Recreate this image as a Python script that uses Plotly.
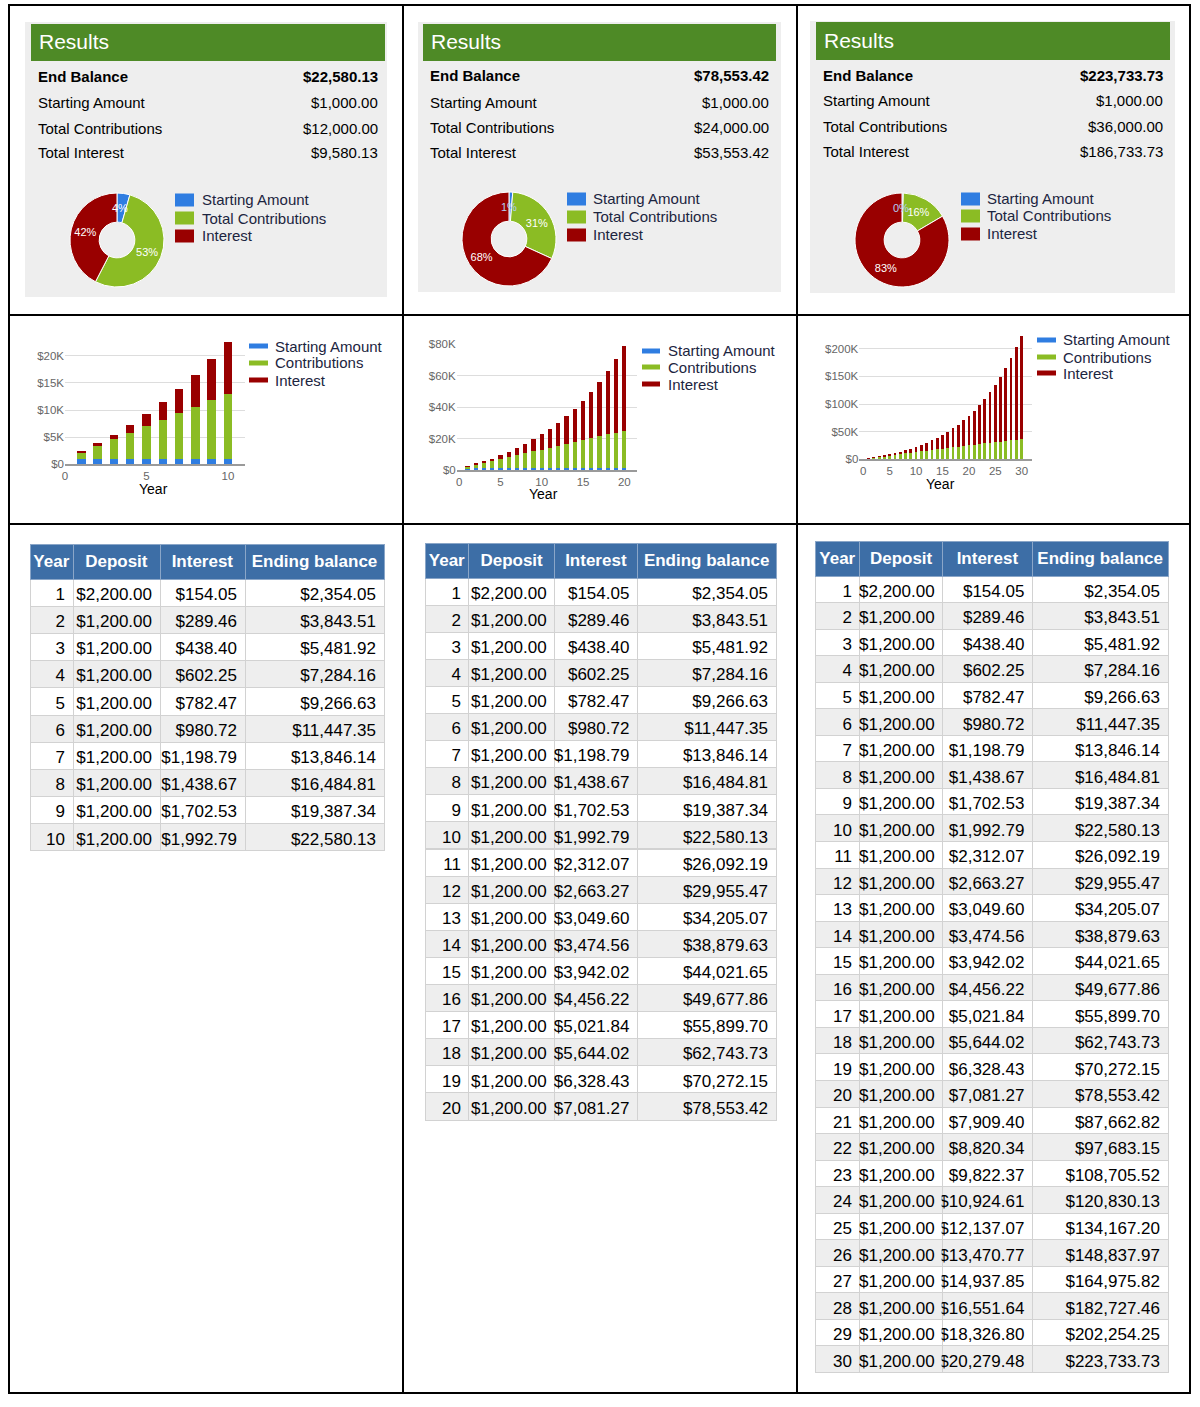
import math
import plotly.graph_objects as go

W, H = 1200, 1407

# ---------------- data ----------------
years = list(range(1, 31))
deposit = [2200.00] + [1200.00] * 29
interest = [154.05, 289.46, 438.40, 602.25, 782.47, 980.72, 1198.79, 1438.67, 1702.53, 1992.79,
            2312.07, 2663.27, 3049.60, 3474.56, 3942.02, 4456.22, 5021.84, 5644.02, 6328.43, 7081.27,
            7909.40, 8820.34, 9822.37, 10924.61, 12137.07, 13470.77, 14937.85, 16551.64, 18326.80, 20279.48]
ending_balance = [2354.05, 3843.51, 5481.92, 7284.16, 9266.63, 11447.35, 13846.14, 16484.81, 19387.34, 22580.13,
                  26092.19, 29955.47, 34205.07, 38879.63, 44021.65, 49677.86, 55899.70, 62743.73, 70272.15, 78553.42,
                  87662.82, 97683.15, 108705.52, 120830.13, 134167.20, 148837.97, 164975.82, 182727.46, 202254.25, 223733.73]

# stacked bar components (cumulative)
bar_starting = [1000] * 30
bar_contrib = [1200, 2400, 3600, 4800, 6000, 7200, 8400, 9600, 10800, 12000,
               13200, 14400, 15600, 16800, 18000, 19200, 20400, 21600, 22800, 24000,
               25200, 26400, 27600, 28800, 30000, 31200, 32400, 33600, 34800, 36000]
bar_interest = [154.05, 443.51, 881.92, 1484.16, 2266.63, 3247.35, 4446.14, 5884.81, 7587.34, 9580.13,
                11892.19, 14555.47, 17605.07, 21079.63, 25021.65, 29477.86, 34499.70, 40143.73, 46472.15, 53553.42,
                61462.82, 70283.15, 80105.52, 91030.13, 103167.20, 116637.97, 131575.82, 148127.46, 166454.25, 186733.73]

# results summaries
horizons = [10, 20, 30]
end_balances = [22580.13, 78553.42, 223733.73]
starting_amounts = [1000.00, 1000.00, 1000.00]
total_contributions = [12000.00, 24000.00, 36000.00]
total_interest = [9580.13, 53553.42, 186733.73]

pie_labels = ["Starting Amount", "Total Contributions", "Interest"]
bar_labels = ["Starting Amount", "Contributions", "Interest"]
result_labels = ["End Balance", "Starting Amount", "Total Contributions", "Total Interest"]
table_headers = ["Year", "Deposit", "Interest", "Ending balance"]

y_tickvals = [[0, 5000, 10000, 15000, 20000],
              [0, 20000, 40000, 60000, 80000],
              [0, 50000, 100000, 150000, 200000]]
y_ticktext = [["$0", "$5K", "$10K", "$15K", "$20K"],
              ["$0", "$20K", "$40K", "$60K", "$80K"],
              ["$0", "$50K", "$100K", "$150K", "$200K"]]
x_tickvals = [[0, 5, 10], [0, 5, 10, 15, 20], [0, 5, 10, 15, 20, 25, 30]]

# ---------------- styles ----------------
BLUE = "#2f7de1"
GREEN = "#8bbc24"
RED = "#990000"
HEADER_GREEN = "#4e8a26"
PANEL_GREY = "#eeeeee"
TABLE_BLUE = "#3d6ea6"
FONT = "Arial, Liberation Sans, sans-serif"
LEG_COLOR = "#1c2540"


def px(x):
    return x / W


def py(y):
    return min(1.0, max(0.0, 1 - y / H))


panels = [
    dict(grey=(25, 22, 387, 297), head=(31, 24, 385, 61), title_x=37, title_y=42,
         lab_x=36, val_x=380, rows=[77, 102, 128, 153],
         pie_c=(117, 240), pie_leg_sq=(175, 194), pie_leg_tx=200, pie_leg_rows=[200, 218, 236],
         bx=(65, 245), by=(464.3, 341.6), xr=[0, 11.05], yr=[0, 22600],
         bar_leg_sw=(249, 268), bar_leg_tx=273, bar_leg_rows=[346, 363, 380], year_lbl=(153, 489),
         tab_x=(30, 384), tab_top=544, head_h=28, cell_h=27.2, colw=[43, 87, 85, 139]),
    dict(grey=(418, 22, 781, 292), head=(423, 24, 776, 61), title_x=429, title_y=42,
         lab_x=428, val_x=771, rows=[76, 102, 127, 153],
         pie_c=(509, 239), pie_leg_sq=(567, 586), pie_leg_tx=591, pie_leg_rows=[199, 217, 235],
         bx=(456.7, 636.7), by=(470, 344), xr=[-0.3, 21.5], yr=[0, 80000],
         bar_leg_sw=(642, 660), bar_leg_tx=666, bar_leg_rows=[351, 367, 384], year_lbl=(543, 494),
         tab_x=(425, 777), tab_top=543, head_h=28, cell_h=27.1, colw=[44, 86, 83, 139]),
    dict(grey=(810, 21, 1175, 293), head=(816, 22, 1170, 60), title_x=822, title_y=41,
         lab_x=821, val_x=1165, rows=[75, 101, 126, 152],
         pie_c=(902, 240), pie_leg_sq=(961, 980), pie_leg_tx=985, pie_leg_rows=[199, 216, 234],
         bx=(859.3, 1031.7), by=(459.3, 334.9), xr=[-0.76, 31.9], yr=[0, 225000],
         bar_leg_sw=(1037, 1056), bar_leg_tx=1061, bar_leg_rows=[340, 357, 373], year_lbl=(940, 484),
         tab_x=(815, 1169), tab_top=541, head_h=29, cell_h=26.55, colw=[45, 83, 90, 136]),
]


def money(v):
    return "${:,.2f}".format(v)


fig = go.Figure()
shapes = []
annotations = []
layout_axes = {}

for i, p in enumerate(panels):
    n = horizons[i]
    # ---- results panel background ----
    gx0, gy0, gx1, gy1 = p["grey"]
    shapes.append(dict(type="rect", xref="paper", yref="paper", x0=px(gx0), x1=px(gx1), y0=py(gy1), y1=py(gy0),
                       fillcolor=PANEL_GREY, line=dict(width=0), layer="below"))
    hx0, hy0, hx1, hy1 = p["head"]
    shapes.append(dict(type="rect", xref="paper", yref="paper", x0=px(hx0), x1=px(hx1), y0=py(hy1), y1=py(hy0),
                       fillcolor=HEADER_GREEN, line=dict(width=0), layer="below"))
    annotations.append(dict(text="Results", xref="paper", yref="paper", x=px(p["title_x"]), y=py(p["title_y"]),
                            xanchor="left", yanchor="middle", showarrow=False,
                            font=dict(family=FONT, size=21, color="white")))
    vals = [end_balances[i], starting_amounts[i], total_contributions[i], total_interest[i]]
    for k, (lab, v) in enumerate(zip(result_labels, vals)):
        t_lab = f"<b>{lab}</b>" if k == 0 else lab
        t_val = f"<b>{money(v)}</b>" if k == 0 else money(v)
        annotations.append(dict(text=t_lab, xref="paper", yref="paper", x=px(p["lab_x"]), y=py(p["rows"][k]),
                                xanchor="left", yanchor="middle", showarrow=False,
                                font=dict(family=FONT, size=15, color="black")))
        annotations.append(dict(text=t_val, xref="paper", yref="paper", x=px(p["val_x"]), y=py(p["rows"][k]),
                                xanchor="right", yanchor="middle", showarrow=False,
                                font=dict(family=FONT, size=15, color="black")))

    # ---- donut ----
    cx, cy = p["pie_c"]
    r = 47
    hole = 0.38
    pie_vals = [starting_amounts[i], total_contributions[i], total_interest[i]]
    fig.add_trace(go.Pie(
        labels=pie_labels,
        values=pie_vals,
        hole=hole, sort=False, direction="clockwise", rotation=0,
        marker=dict(colors=[BLUE, GREEN, RED], line=dict(color="white", width=1)),
        texttemplate="%{percent:.0%}", textposition=["none", "inside", "inside"],
        insidetextorientation="horizontal",
        textfont=dict(family=FONT, size=11, color="white"),
        domain=dict(x=[px(cx - r), px(cx + r)], y=[py(cy + r), py(cy - r)]),
        showlegend=False, hoverinfo="label+value+percent"))
    # label of the thin first slice, placed mid-ring at the slice's mid angle (as the original does)
    frac = pie_vals[0] / sum(pie_vals)
    ang = frac * math.pi
    rm = r * (1 + hole) / 2
    annotations.append(dict(text=f"{frac:.0%}", xref="paper", yref="paper",
                            x=px(cx + rm * math.sin(ang) - 1.5), y=py(cy - rm * math.cos(ang)),
                            xanchor="center", yanchor="middle", showarrow=False,
                            font=dict(family=FONT, size=11,
                                      color="white" if frac >= 0.03 else "#b3cdf2")))
    sq0, sq1 = p["pie_leg_sq"]
    for k, (lab, col) in enumerate(zip(pie_labels, [BLUE, GREEN, RED])):
        yy = p["pie_leg_rows"][k]
        shapes.append(dict(type="rect", xref="paper", yref="paper", x0=px(sq0), x1=px(sq1),
                           y0=py(yy + 6.5), y1=py(yy - 6.5), fillcolor=col, line=dict(width=0)))
        annotations.append(dict(text=lab, xref="paper", yref="paper", x=px(p["pie_leg_tx"]), y=py(yy),
                                xanchor="left", yanchor="middle", showarrow=False,
                                font=dict(family=FONT, size=15, color=LEG_COLOR)))

    # ---- stacked bars ----
    ax = "" if i == 0 else str(i + 1)
    xs = years[:n]
    for lab, vals_b, col in zip(bar_labels, [bar_starting[:n], bar_contrib[:n], bar_interest[:n]], [BLUE, GREEN, RED]):
        fig.add_trace(go.Bar(x=xs, y=vals_b, name=lab, marker=dict(color=col, line=dict(width=0)),
                             xaxis="x" + ax, yaxis="y" + ax, showlegend=False, width=0.52))
    bx0, bx1 = p["bx"]
    by0, by1 = p["by"]
    layout_axes["xaxis" + ax] = dict(domain=[px(bx0), px(bx1)], range=p["xr"], anchor="y" + ax,
                                     tickvals=x_tickvals[i], showgrid=False, zeroline=False,
                                     showline=True, linecolor="#9a9a9a", linewidth=1.5, ticks="",
                                     automargin=False,
                                     tickfont=dict(family=FONT, size=11.5, color="#666666"))
    layout_axes["yaxis" + ax] = dict(domain=[py(by0), py(by1)], range=p["yr"], anchor="x" + ax,
                                     tickvals=y_tickvals[i], ticktext=y_ticktext[i], showgrid=True,
                                     gridcolor="#dddddd", gridwidth=1, zeroline=False, showline=False,
                                     ticks="", automargin=False,
                                     tickfont=dict(family=FONT, size=11.5, color="#666666"))
    yl_x, yl_y = p["year_lbl"]
    annotations.append(dict(text="Year", xref="paper", yref="paper", x=px(yl_x), y=py(yl_y),
                            xanchor="center", yanchor="middle", showarrow=False,
                            font=dict(family=FONT, size=14, color="black")))
    sw0, sw1 = p["bar_leg_sw"]
    for k, (lab, col) in enumerate(zip(bar_labels, [BLUE, GREEN, RED])):
        yy = p["bar_leg_rows"][k]
        shapes.append(dict(type="rect", xref="paper", yref="paper", x0=px(sw0), x1=px(sw1),
                           y0=py(yy + 2.5), y1=py(yy - 2.5), fillcolor=col, line=dict(width=0)))
        annotations.append(dict(text=lab, xref="paper", yref="paper", x=px(p["bar_leg_tx"]), y=py(yy),
                                xanchor="left", yanchor="middle", showarrow=False,
                                font=dict(family=FONT, size=15, color=LEG_COLOR)))

    # ---- table ----
    tx0, tx1 = p["tab_x"]
    top = p["tab_top"]
    total_h = p["head_h"] + p["cell_h"] * n + 40
    row_fill = ["white" if r_ % 2 == 0 else "#eeeeee" for r_ in range(n)]
    fig.add_trace(go.Table(
        domain=dict(x=[px(tx0), px(tx1)], y=[py(top + total_h), py(top)]),
        columnwidth=p["colw"],
        header=dict(values=["<b>" + h.replace(" ", "\u00a0") + "</b>" for h in table_headers],
                    fill_color=TABLE_BLUE,
                    line=dict(color="#8aa6c8", width=1), align="center", height=p["head_h"],
                    font=dict(family=FONT, size=17, color="white")),
        cells=dict(values=[[str(y) for y in years[:n]], [money(v) for v in deposit[:n]],
                           [money(v) for v in interest[:n]], [money(v) for v in ending_balance[:n]]],
                   fill_color=[row_fill] * 4, line=dict(color="#d2d2d2", width=1),
                   align="right", height=p["cell_h"],
                   font=dict(family=FONT, size=17, color="black"))))

# ---------------- grid borders ----------------
BL = dict(color="black", width=2)
shapes.append(dict(type="rect", xref="paper", yref="paper", x0=px(9), x1=px(1190), y0=py(1393), y1=py(5),
                   line=BL, fillcolor="rgba(0,0,0,0)"))
for xv in [403, 797]:
    shapes.append(dict(type="line", xref="paper", yref="paper", x0=px(xv), x1=px(xv), y0=py(1393), y1=py(5), line=BL))
for yv in [315, 524]:
    shapes.append(dict(type="line", xref="paper", yref="paper", x0=px(9), x1=px(1190), y0=py(yv), y1=py(yv), line=BL))

fig.update_layout(
    width=W, height=H, margin=dict(l=0, r=0, t=0, b=0, pad=0, autoexpand=False),
    paper_bgcolor="white", plot_bgcolor="rgba(0,0,0,0)",
    barmode="stack", bargap=0.45,
    shapes=shapes, annotations=annotations,
    uniformtext=dict(minsize=11, mode="show"),
    font=dict(family=FONT),
    **layout_axes,
)

post = ("document.body.style.margin='0';document.body.style.overflow='hidden';"
        "var d=document.getElementById('{plot_id}');"
        "d.style.position='absolute';d.style.left='0px';d.style.top='0px';")
fig.write_html("out.html", config={"displayModeBar": False}, post_script=post)
